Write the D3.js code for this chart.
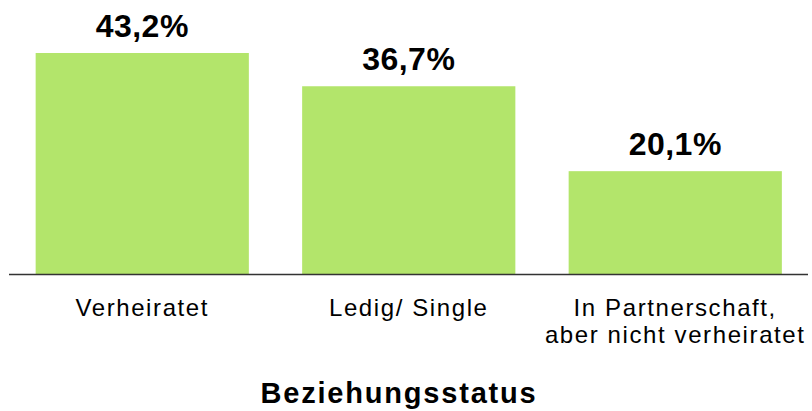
<!DOCTYPE html>
<html>
<head>
<meta charset="utf-8">
<script src="https://cdn.jsdelivr.net/npm/d3@7"></script>
<style>
  body { margin: 0; background: #fff; }
  text { font-family: "Liberation Sans", Arial, sans-serif; fill: #000; }
</style>
</head>
<body>
<div id="chart"></div>
<script>
// data
var categories = ["Verheiratet", "Ledig/ Single", "In Partnerschaft,\naber nicht verheiratet"];
var values = [43.2, 36.7, 20.1];
var valueLabels = ["43,2%", "36,7%", "20,1%"];
var axisTitle = "Beziehungsstatus";

var svgWidth = 812;
var svgHeight = 411;
var baseY = 274;

var svg = d3.select("#chart")
  .append("svg")
  .attr("width", svgWidth)
  .attr("height", svgHeight);

var xScale = d3.scaleBand()
  .domain(categories)
  .range([9, 808.5])
  .paddingInner(0.2)
  .paddingOuter(0.1);

var yScale = d3.scaleLinear()
  .domain([0, d3.max(values)])
  .range([baseY, 53]);

var data = categories.map((c, i) => ({ cat: c, value: values[i], label: valueLabels[i] }));

// bars
svg.selectAll("rect.bar")
  .data(data)
  .enter()
  .append("rect")
  .attr("class", "bar")
  .attr("x", d => xScale(d.cat))
  .attr("width", xScale.bandwidth())
  .attr("y", d => yScale(d.value))
  .attr("height", d => baseY - yScale(d.value))
  .attr("fill", "#b3e56b");

// value labels
svg.selectAll("text.val")
  .data(data)
  .enter()
  .append("text")
  .attr("class", "val")
  .attr("x", d => xScale(d.cat) + xScale.bandwidth() / 2)
  .attr("y", d => yScale(d.value) - 16)
  .attr("text-anchor", "middle")
  .style("font-size", "32px")
  .style("font-weight", "bold")
  .style("letter-spacing", "0.5px")
  .text(d => d.label);

// baseline
svg.append("line")
  .attr("x1", 9)
  .attr("x2", 808)
  .attr("y1", baseY + 0.5)
  .attr("y2", baseY + 0.5)
  .attr("stroke", "#333")
  .attr("stroke-width", 1.5);

// category labels
var catText = svg.selectAll("text.cat")
  .data(data)
  .enter()
  .append("text")
  .attr("class", "cat")
  .attr("text-anchor", "middle")
  .style("font-size", "24px")
  .style("letter-spacing", "1.6px");

catText.each(function(d) {
  var lines = d.cat.split("\n");
  var cx = xScale(d.cat) + xScale.bandwidth() / 2;
  d3.select(this).selectAll("tspan")
    .data(lines)
    .enter()
    .append("tspan")
    .attr("x", cx)
    .attr("y", (l, i) => 316 + i * 27)
    .text(l => l);
});

// axis title
svg.append("text")
  .attr("x", 399)
  .attr("y", 403)
  .attr("text-anchor", "middle")
  .style("font-size", "29px")
  .style("font-weight", "bold")
  .style("letter-spacing", "1.8px")
  .text(axisTitle);
</script>
</body>
</html>
